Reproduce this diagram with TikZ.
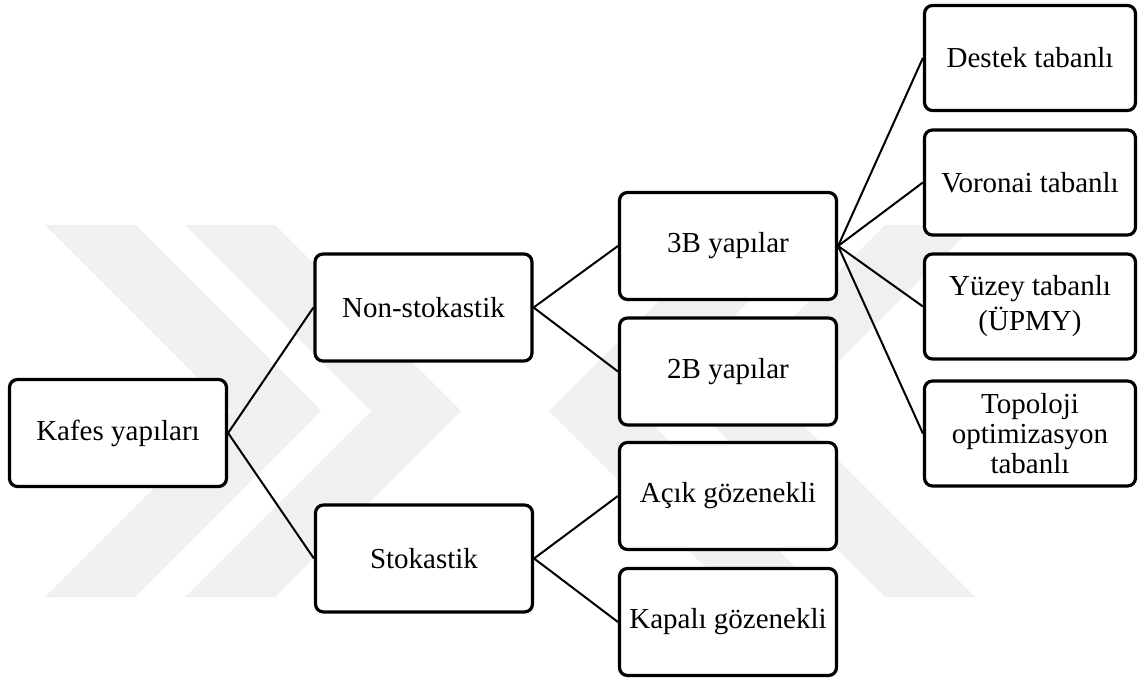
\documentclass[tikz,border=0pt]{standalone}
\usepackage{fontspec}
\setmainfont{Liberation Serif}
\begin{document}
\begin{tikzpicture}[x=0.5pt,y=-0.5pt]
\tikzset{
  box/.style={draw, line width=1.6pt, rounded corners=4pt, minimum width=108.5pt,
    minimum height=53.5pt, inner sep=0pt, align=center, fill=white,
    font=\fontsize{14.5}{17.5}\selectfont},
  rbox/.style={box, minimum width=105.5pt, minimum height=52.5pt},
  conn/.style={line width=1pt},
  wm/.style={fill=black!6, draw=none}
}
\useasboundingbox (0,0) rectangle (1139,679);
\fill[white] (0,0) rectangle (1139,679);
% faint watermark
\fill[wm] (45,225) -- (135,225) -- (321,411) -- (135,597) -- (45,597) -- (231,411) -- cycle;
\fill[wm] (185,225) -- (275,225) -- (461,411) -- (275,597) -- (185,597) -- (371,411) -- cycle;
\fill[wm] (975,225) -- (885,225) -- (699,411) -- (885,597) -- (975,597) -- (789,411) -- cycle;
\fill[wm] (825,225) -- (735,225) -- (549,411) -- (735,597) -- (825,597) -- (639,411) -- cycle;
% nodes
\node[box] (kafes) at (118,433) {Kafes yapıları};
\node[box] (non) at (423.5,307.5) {Non-stokastik};
\node[box] (stok) at (424,558.5) {Stokastik};
\node[box] (b3) at (728,246) {3B yapılar};
\node[box] (b2) at (728,371.5) {2B yapılar};
\node[box] (acik) at (728,496) {Açık gözenekli};
\node[box] (kapali) at (728,622) {Kapalı gözenekli};
\node[rbox] (destek) at (1030,58) {Destek tabanlı};
\node[rbox] (voronai) at (1030,182.5) {Voronai tabanlı};
\node[rbox] (yuzey) at (1030,306.5) {Yüzey tabanlı\\(ÜPMY)};
\node[rbox, font=\fontsize{14.5}{14.8}\selectfont] (topo) at (1030,433.5) {Topoloji\\optimizasyon\\tabanlı};
% connectors
\draw[conn] (kafes.east) -- (non.west);
\draw[conn] (kafes.east) -- (stok.west);
\draw[conn] (non.east) -- (b3.west);
\draw[conn] (non.east) -- (b2.west);
\draw[conn] (stok.east) -- (acik.west);
\draw[conn] (stok.east) -- (kapali.west);
\draw[conn] (b3.east) -- (destek.west);
\draw[conn] (b3.east) -- (voronai.west);
\draw[conn] (b3.east) -- (yuzey.west);
\draw[conn] (b3.east) -- (topo.west);
\end{tikzpicture}
\end{document}
